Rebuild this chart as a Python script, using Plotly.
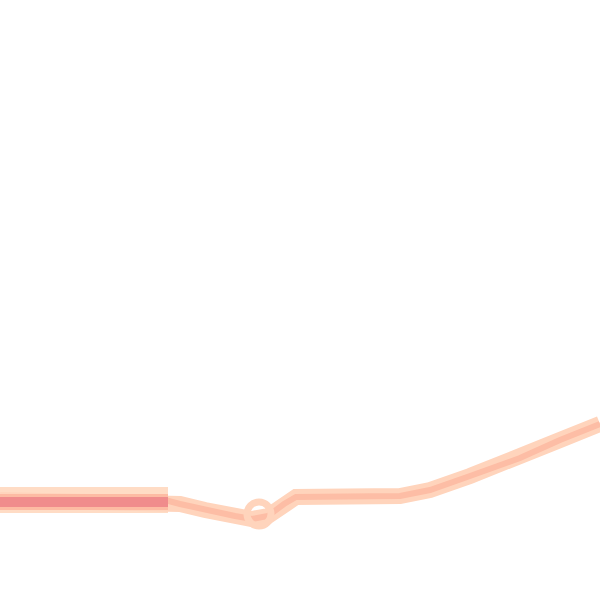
#draw a bundle of overlapping lines, faded peach with a darker core on the left
#%%
import plotly.graph_objects as go

#step positions along the x axis and the value of each line at those steps
steps = [0, 165, 180, 205, 235, 252, 268, 284, 296, 400, 430, 470, 520, 560, 600]
main_values = [100, 100, 96, 90, 84, 81, 84, 96, 103, 104, 110, 124, 142, 160, 176]

#the left hand lines that sit on top of each other
left_steps = [0, 80, 168]
upper_values = [107, 107, 107]
lower_values = [92, 92, 92]
core_values = [98, 98, 98]

#the little loop in the dip
loop_steps = [259]
loop_values = [86]

#%%
fig = go.Figure()

#wide faded band on the left
fig.add_trace(go.Scatter(x=left_steps, y=upper_values, mode='lines',
                         line=dict(color='#FFDCC5', width=12)))
fig.add_trace(go.Scatter(x=left_steps, y=lower_values, mode='lines',
                         line=dict(color='#FFDCC5', width=10)))

#main line, light outer then a darker centre
fig.add_trace(go.Scatter(x=steps, y=main_values, mode='lines',
                         line=dict(color='#FFD4BC', width=16)))
fig.add_trace(go.Scatter(x=steps, y=main_values, mode='lines',
                         line=dict(color='#FDBDA5', width=6)))

#loop drawn as an open circle
fig.add_trace(go.Scatter(x=loop_steps, y=loop_values, mode='markers',
                         marker=dict(symbol='circle-open', size=24, color='#FFD4BC',
                                     line=dict(color='#FFD4BC', width=7))))

#dark core on the left
fig.add_trace(go.Scatter(x=left_steps, y=core_values, mode='lines',
                         line=dict(color='#FDBBA3', width=16)))
fig.add_trace(go.Scatter(x=left_steps, y=core_values, mode='lines',
                         line=dict(color='#F08C8C', width=10)))

#no axes, no legend, fill the whole window
fig.update_layout(width=600, height=600, margin=dict(l=0, r=0, t=0, b=0),
                  showlegend=False, plot_bgcolor='white', paper_bgcolor='white')
fig.update_xaxes(range=[0, 600], visible=False)
fig.update_yaxes(range=[0, 600], visible=False)

#drop the default page margin so the plot sits in the corner, and hide the toolbar
fig.write_html("out.html", config={'displayModeBar': False},
               post_script="document.body.style.margin='0';")
